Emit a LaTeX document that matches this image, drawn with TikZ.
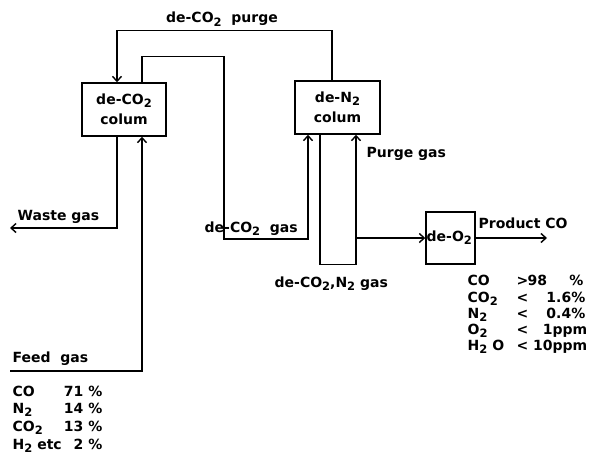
\documentclass[tikz,border=0pt]{standalone}
\usepackage{fontspec}
\setmainfont{DejaVu Sans}[UprightFont=* Bold]
\usetikzlibrary{arrows.meta}
\newcommand{\two}{\raisebox{-0.4ex}{\fontsize{11.5}{11.5}\selectfont 2}}
\begin{document}
\begin{tikzpicture}[x=1pt,y=-1pt,line width=1.4pt,
  font=\fontsize{14}{20}\selectfont,
  box/.style={draw,inner sep=0pt,align=center},
  flow/.style={-{Straight Barb[length=5pt,width=9pt]}},
  lbl/.style={inner sep=0pt,anchor=base west},
  lble/.style={inner sep=0pt,anchor=base east}]
\useasboundingbox (0,0) rectangle (597,460);
% boxes
\node[box,minimum width=84pt,minimum height=53pt] (c1) at (124,109.5) {de-CO\two\\colum};
\node[box,minimum width=85pt,minimum height=53pt] (n2) at (337.5,107.5) {de-N\two\\colum};
\node[box,minimum width=49pt,minimum height=52pt] (o2) at (450.5,238) {};
\node[inner sep=0pt,anchor=west] (o2t) at (426,238) {de-O\two};
% free ends
\coordinate (j) at (356,238);
\coordinate (pc) at (547,238);
\coordinate (w) at (10,228);
\coordinate (f) at (10,371);
% connectors
\draw[flow] ([xshift=-5.5pt]n2.north) -- ++(0,-50) -| ([xshift=-7pt]c1.north);
\draw[flow] ([xshift=18pt]c1.north) -- ++(0,-26) -| (224,239) -| ([xshift=-29.5pt]n2.south);
\draw[flow] ([xshift=-17.5pt]n2.south) -- ++(0,130) -| ([xshift=18.5pt]n2.south);
\draw[flow] (j) -- (o2.west);
\draw[flow] (o2.east) -- (pc);
\draw[flow] ([xshift=-7pt]c1.south) |- (w);
\draw[flow] (f) -| ([xshift=18pt]c1.south);
% labels
\node[inner sep=0pt,anchor=base] (lp) at (222,23) {de-CO\two\ \ purge};
\node[lbl] (lw) at (17,220) {Waste gas};
\node[lbl] (lg) at (204,232) {de-CO\two\ \ gas};
\node[lbl] (lpg) at (366,157) {Purge gas};
\node[lbl] (ln) at (274,287) {de-CO\two,N\two\ gas};
\node[lbl] (lpc) at (478,228) {Product CO};
\node[lbl] (lf) at (12,362) {Feed\ \ gas};
% feed table
\node[lbl] (fa1) at (12,396) {CO};
\node[lble] (fb1) at (103,396) {71 \%};
\node[lbl] (fa2) at (12,413) {N\two};
\node[lble] (fb2) at (103,413) {14 \%};
\node[lbl] (fa3) at (12,431) {CO\two};
\node[lble] (fb3) at (103,431) {13 \%};
\node[lbl] (fa4) at (12,449) {H\two\ etc};
\node[lble] (fb4) at (103,449) {2 \%};
% product table
\node[lbl] (pa1) at (467,285) {CO};
\node[lbl] (pr1) at (516,285) {>};
\node[lbl] (pb1) at (527,285) {98};
\node[lble] (pd1) at (584,285) {\%};
\node[lbl] (pa2) at (467,302) {CO\two};
\node[lbl] (pr2) at (516,302) {<};
\node[lble] (pb2) at (586,302) {1.6\%};
\node[lbl] (pa3) at (467,318) {N\two};
\node[lbl] (pr3) at (516,318) {<};
\node[lble] (pb3) at (586,318) {0.4\%};
\node[lbl] (pa4) at (467,334) {O\two};
\node[lbl] (pr4) at (516,334) {<};
\node[lble] (pb4) at (588,334) {1ppm};
\node[lbl] (pa5) at (467,350) {H\two\ O};
\node[lbl] (pr5) at (516,350) {<};
\node[lble] (pb5) at (588,350) {10ppm};
\end{tikzpicture}
\end{document}
